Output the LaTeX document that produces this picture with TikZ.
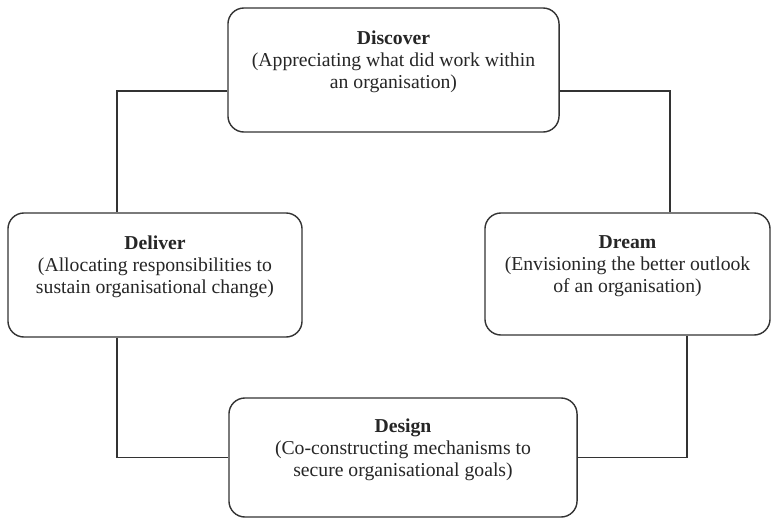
\documentclass[tikz,border=0pt]{standalone}
\usepackage{fontspec}
\setmainfont{Liberation Serif}
\usepackage{tikz}
\usetikzlibrary{positioning}

\begin{document}
\begin{tikzpicture}[x=0.025cm, y=-0.025cm, line width=0.9pt, draw=black!80]
  \tikzstyle{stage}=[draw=black!80, line width=1pt, rounded corners=0.4cm, fill=white]
  \tikzstyle{caption}=[text=black!85, align=center, inner sep=0pt,
                       font=\fontsize{14}{15.5}\selectfont]
  \useasboundingbox (0,0) rectangle (771,520);

  % boxes
  \node[stage, minimum width=8.275cm, minimum height=3.1cm]   (discover) at (393.5,70)  {};
  \node[stage, minimum width=7.35cm, minimum height=3.1cm]    (deliver)  at (155,275)   {};
  \node[stage, minimum width=7.125cm, minimum height=3.05cm]  (dream)    at (627.5,274) {};
  \node[stage, minimum width=8.7cm, minimum height=2.975cm]   (design)   at (403,457.5) {};

  % texts, a little above the middle of each box
  \node[caption] (discover-text) at ([yshift=0.2cm]discover.center)
       {\textbf{Discover}\\(Appreciating what did work within\\an organisation)};
  \node[caption] (deliver-text) at ([yshift=0.2cm]deliver.center)
       {\textbf{Deliver}\\(Allocating responsibilities to\\sustain organisational change)};
  \node[caption] (dream-text) at ([yshift=0.2cm]dream.center)
       {\textbf{Dream}\\(Envisioning the better outlook\\of an organisation)};
  \node[caption] (design-text) at ([yshift=0.2cm]design.center)
       {\textbf{Design}\\(Co-constructing mechanisms to\\secure organisational goals)};

  % cycle
  \draw ([yshift=-0.525cm]discover.west) -| ([xshift=-0.95cm]deliver.north);
  \draw ([yshift=-0.525cm]discover.east) -| ([xshift=1.0625cm]dream.north);
  \draw ([xshift=-0.95cm]deliver.south) |- (design.west);
  \draw ([xshift=1.4875cm]dream.south) |- (design.east);
\end{tikzpicture}
\end{document}
